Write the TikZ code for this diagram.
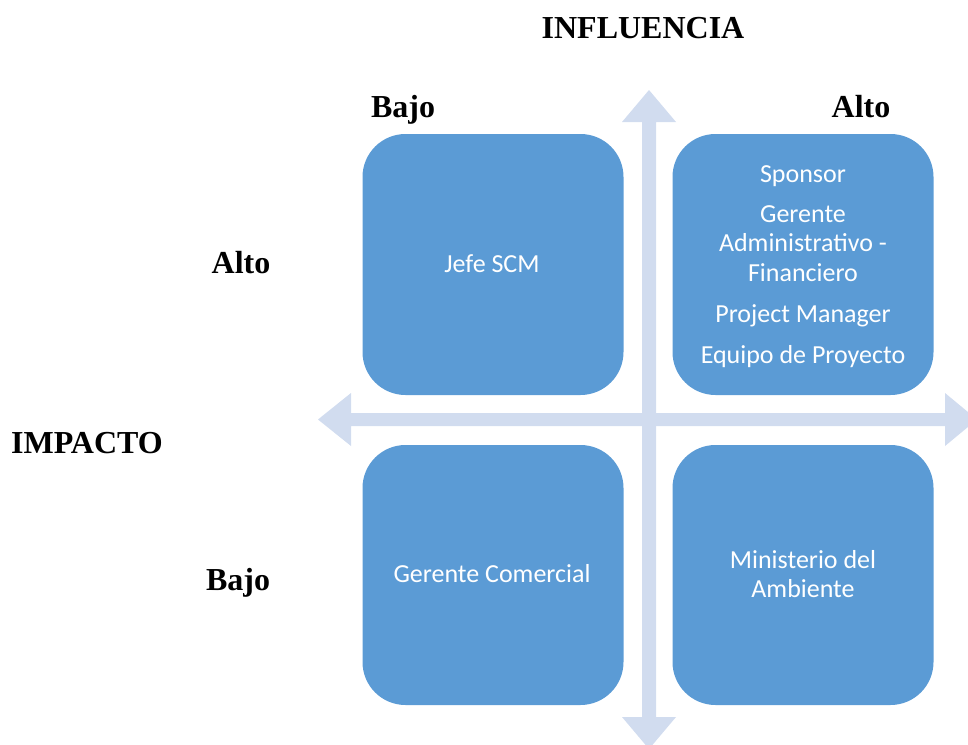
\documentclass[tikz,border=0pt]{standalone}
\usepackage{fontspec}
\setmainfont{Liberation Serif}
\newfontfamily\calib{Carlito}
\definecolor{boxblue}{RGB}{91,155,213}
\definecolor{arrowblue}{RGB}{209,220,239}
\begin{document}
\begin{tikzpicture}[x=1pt,y=-1pt,
  quad/.style={draw=none,fill=boxblue,rounded corners=43pt,minimum width=261pt,minimum height=261pt,inner sep=0pt},
  boxtxt/.style={anchor=base,text=white,font=\calib\fontsize{26}{29}\selectfont,inner sep=0pt},
  lbl/.style={anchor=base,text=black,font=\bfseries\fontsize{32}{38}\selectfont,inner sep=0pt}]
\useasboundingbox (0,0) rectangle (968,744);
\clip (0,0) rectangle (968,744);
% axes (block arrows)
\fill[arrowblue] (642,122) -- (622,122) -- (649,90) -- (676,122) -- (656,122)
  -- (656,717) -- (676,717) -- (649,749) -- (622,717) -- (642,717) -- cycle;
\fill[arrowblue] (351,413) -- (351,393) -- (318,419.5) -- (351,446) -- (351,426)
  -- (945,426) -- (945,446) -- (977,419.5) -- (945,393) -- (945,413) -- cycle;
% quadrants
\node[quad] (tl) at (493,264.5) {};
\node[quad] (tr) at (803,264.5) {};
\node[quad,minimum height=260pt] (bl) at (493,575) {};
\node[quad,minimum height=260pt] (br) at (803,575) {};
% quadrant texts
\node[boxtxt] (t1) at (492,272) {Jefe SCM};
\node[boxtxt] (t2) at (803,182) {Sponsor};
\node[boxtxt] (t3) at (803,222) {Gerente};
\node[boxtxt] (t4) at (803,251.5) {Administrativo -};
\node[boxtxt] (t5) at (803,281) {Financiero};
\node[boxtxt] (t6) at (803,322) {Project Manager};
\node[boxtxt] (t7) at (803,363) {Equipo de Proyecto};
\node[boxtxt] (t8) at (492,582) {Gerente Comercial};
\node[boxtxt] (t9) at (803,568) {Ministerio del};
\node[boxtxt] (t10) at (803,597) {Ambiente};
% axis labels
\node[lbl] (infl) at (643,38.5) {INFLUENCIA};
\node[lbl] (bajoT) at (403,117) {Bajo};
\node[lbl] (altoT) at (861,117) {Alto};
\node[lbl] (altoL) at (241,273) {Alto};
\node[lbl] (imp) at (87,453) {IMPACTO};
\node[lbl] (bajoL) at (238,590) {Bajo};
\end{tikzpicture}
\end{document}
